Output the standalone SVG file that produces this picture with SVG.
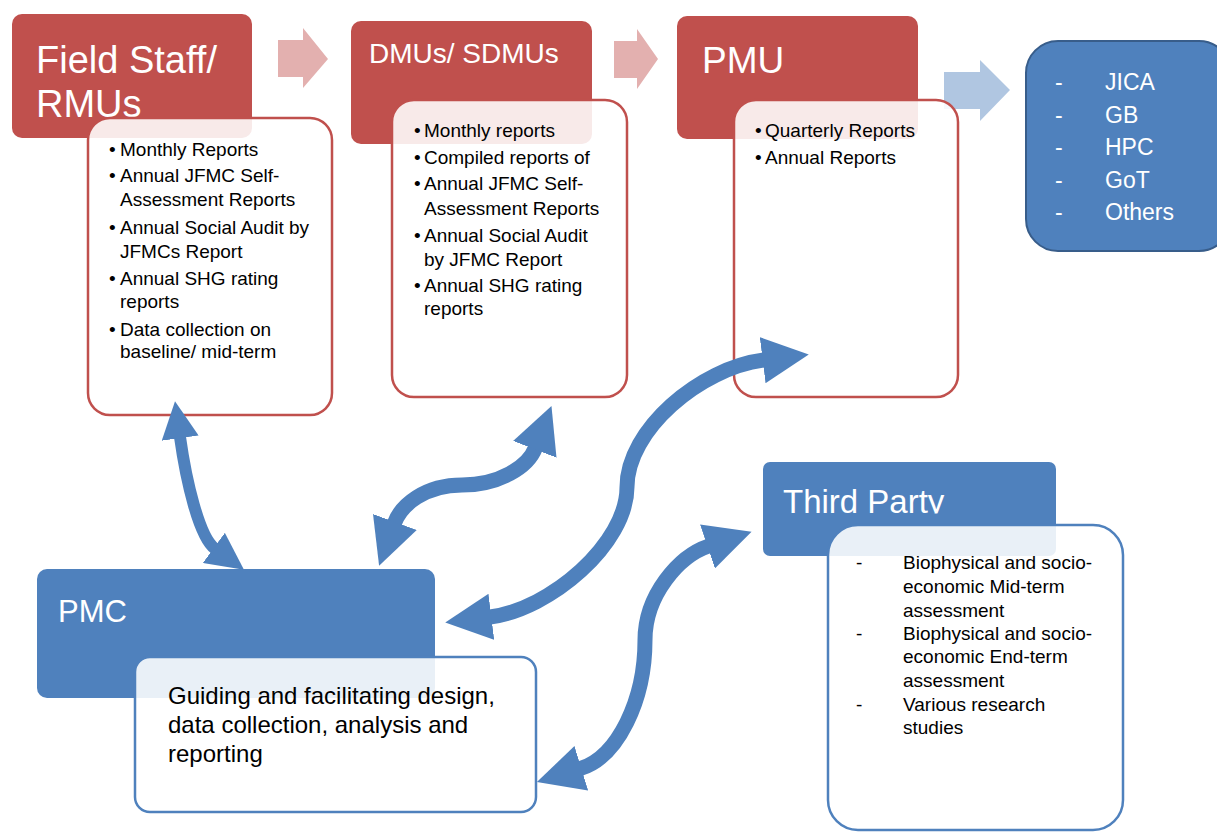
<svg xmlns="http://www.w3.org/2000/svg" width="1217" height="832" viewBox="0 0 1217 832">
<style>
text{font-family:"Liberation Sans",Arial,sans-serif}
.hr{fill:#c0504d}
.hb{fill:#4f81bd}
.ir{fill:#fff;fill-opacity:0.88;stroke:#c0504d;stroke-width:2.5}
.ib{fill:#fff;fill-opacity:0.88;stroke:#4f81bd;stroke-width:2.5}
.ht{fill:#fff}
.bt{fill:#000;font-size:19px}
.con{fill:none;stroke:#4f81bd;marker-start:url(#ah);marker-end:url(#ah)}
</style>
<defs>
<marker id="ah" viewBox="0 0 10 10" refX="0.3" refY="5" markerWidth="3.1" markerHeight="3.1" orient="auto-start-reverse" markerUnits="strokeWidth">
<path d="M0,0 L10,5 L0,10 z" fill="#4f81bd"/>
</marker>
<clipPath id="tpclip"><rect x="760" y="460" width="300" height="53.5"/></clipPath>
</defs>
<rect width="1217" height="832" fill="#fff"/>

<g id="flow-arrows">
<polygon points="278,40 303,40 303,28 328,59 303,88 303,77 278,77" fill="#c0504d" fill-opacity="0.45"/>
<polygon points="614,41 637,41 637,29 658,59 637,89 637,78 614,78" fill="#c0504d" fill-opacity="0.45"/>
<polygon points="944,72 980,72 980,60 1010,90 980,121 980,109 944,109" fill="#4f81bd" fill-opacity="0.45"/>
</g>

<g id="field-staff">
<rect class="hr" x="12" y="14" width="240" height="124" rx="10"/>
<text class="ht" font-size="38" x="36" y="73">Field Staff/</text>
<text class="ht" font-size="38" x="36" y="117">RMUs</text>
<rect class="ir" x="88" y="118" width="244" height="297" rx="22"/>
<text class="bt" y="156"><tspan x="109">•</tspan><tspan x="120">Monthly Reports</tspan></text>
<text class="bt" y="182"><tspan x="109">•</tspan><tspan x="120">Annual JFMC Self-</tspan></text>
<text class="bt" x="120" y="206">Assessment Reports</text>
<text class="bt" y="234"><tspan x="109">•</tspan><tspan x="120">Annual Social Audit by</tspan></text>
<text class="bt" x="120" y="258">JFMCs Report</text>
<text class="bt" y="285"><tspan x="109">•</tspan><tspan x="120">Annual SHG rating</tspan></text>
<text class="bt" x="120" y="308">reports</text>
<text class="bt" y="336"><tspan x="109">•</tspan><tspan x="120">Data collection on</tspan></text>
<text class="bt" x="120" y="358">baseline/ mid-term</text>
</g>

<g id="dmus">
<rect class="hr" x="351" y="21" width="241" height="123" rx="10"/>
<text class="ht" font-size="28" x="369" y="63">DMUs/ SDMUs</text>
<rect class="ir" x="392" y="100" width="235" height="297" rx="22"/>
<text class="bt" y="137"><tspan x="414">•</tspan><tspan x="424">Monthly reports</tspan></text>
<text class="bt" y="164"><tspan x="414">•</tspan><tspan x="424">Compiled reports of</tspan></text>
<text class="bt" y="190"><tspan x="414">•</tspan><tspan x="424">Annual JFMC Self-</tspan></text>
<text class="bt" x="424" y="215">Assessment Reports</text>
<text class="bt" y="242"><tspan x="414">•</tspan><tspan x="424">Annual Social Audit</tspan></text>
<text class="bt" x="424" y="266">by JFMC Report</text>
<text class="bt" y="292"><tspan x="414">•</tspan><tspan x="424">Annual SHG rating</tspan></text>
<text class="bt" x="424" y="315">reports</text>
</g>

<g id="pmu">
<rect class="hr" x="677" y="16" width="241" height="123" rx="10"/>
<text class="ht" font-size="37" x="702" y="73">PMU</text>
<rect class="ir" x="734" y="100" width="224" height="297" rx="22"/>
<text class="bt" y="137"><tspan x="755">•</tspan><tspan x="765">Quarterly Reports</tspan></text>
<text class="bt" y="164"><tspan x="755">•</tspan><tspan x="765">Annual Reports</tspan></text>
</g>

<g id="donors">
<rect x="1026" y="41" width="205" height="210" rx="32" fill="#4f81bd" stroke="#385d8a" stroke-width="2"/>
<text class="ht" font-size="23" y="90"><tspan x="1055">-</tspan><tspan x="1105">JICA</tspan></text>
<text class="ht" font-size="23" y="123"><tspan x="1055">-</tspan><tspan x="1105">GB</tspan></text>
<text class="ht" font-size="23" y="155"><tspan x="1055">-</tspan><tspan x="1105">HPC</tspan></text>
<text class="ht" font-size="23" y="188"><tspan x="1055">-</tspan><tspan x="1105">GoT</tspan></text>
<text class="ht" font-size="23" y="220"><tspan x="1055">-</tspan><tspan x="1105">Others</tspan></text>
</g>

<g id="pmc">
<rect class="hb" x="37" y="569" width="398" height="129" rx="10"/>
<text class="ht" font-size="31" x="58" y="622">PMC</text>
<rect class="ib" x="135" y="657" width="401" height="155" rx="15"/>
<text class="bt" x="168" y="704" style="font-size:24px">Guiding and facilitating design,</text>
<text class="bt" x="168" y="733" style="font-size:24px">data collection, analysis and</text>
<text class="bt" x="168" y="762" style="font-size:24px">reporting</text>
</g>

<g id="third-party">
<rect class="hb" x="763" y="462" width="293" height="94" rx="7"/>
<text class="ht" font-size="33" x="783" y="513" clip-path="url(#tpclip)">Third Party</text>
<rect class="ib" x="828" y="525" width="295" height="305" rx="30"/>
<text class="bt" y="569"><tspan x="856">-</tspan><tspan x="903">Biophysical and socio-</tspan></text>
<text class="bt" x="903" y="593">economic Mid-term</text>
<text class="bt" x="903" y="617">assessment</text>
<text class="bt" y="640"><tspan x="856">-</tspan><tspan x="903">Biophysical and socio-</tspan></text>
<text class="bt" x="903" y="663">economic End-term</text>
<text class="bt" x="903" y="687">assessment</text>
<text class="bt" y="711"><tspan x="856">-</tspan><tspan x="903">Various research</tspan></text>
<text class="bt" x="903" y="734">studies</text>
</g>

<g id="connectors">
<path class="con" stroke-width="12" d="M180,437 C186,480 199,537 214.8,548.5"/>
<path class="con" stroke-width="15" d="M394.4,523.3 C401,505 425,485 462,485 C499,485 528,467 535.3,448"/>
<path class="con" stroke-width="15" d="M764,360 C700,368 627,430 627,487 C627,544 550,609.5 490,617"/>
<path class="con" stroke-width="15" d="M708.8,546 C679,556 645,595 645,640 C645,700 618,757 580,768.7"/>
</g>
</svg>
